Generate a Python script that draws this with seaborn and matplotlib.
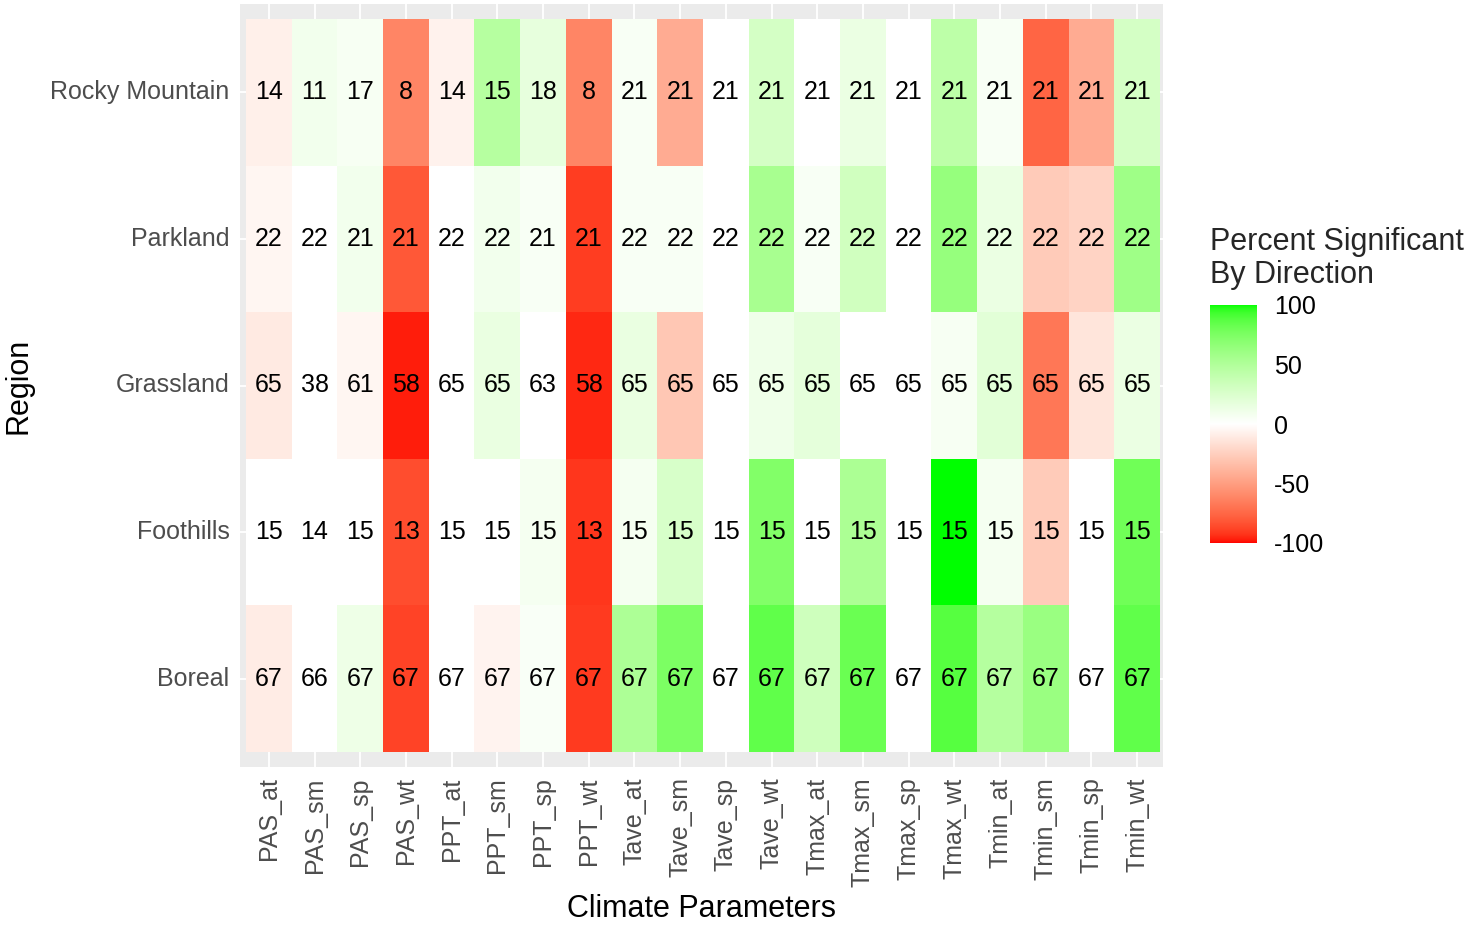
import numpy as np
import pandas as pd
import matplotlib
matplotlib.use("Agg")
import matplotlib.pyplot as plt
from matplotlib.colors import ListedColormap
import seaborn as sns

regions = ["Rocky Mountain", "Parkland", "Grassland", "Foothills", "Boreal"]
params = ["PAS_at", "PAS_sm", "PAS_sp", "PAS_wt", "PPT_at", "PPT_sm", "PPT_sp", "PPT_wt",
          "Tave_at", "Tave_sm", "Tave_sp", "Tave_wt", "Tmax_at", "Tmax_sm", "Tmax_sp", "Tmax_wt",
          "Tmin_at", "Tmin_sm", "Tmin_sp", "Tmin_wt"]

# number of sites per region/parameter (cell labels)
n_rocky = [14, 11, 17, 8, 14, 15, 18, 8, 21, 21, 21, 21, 21, 21, 21, 21, 21, 21, 21, 21]
n_parkland = [22, 22, 21, 21, 22, 22, 21, 21, 22, 22, 22, 22, 22, 22, 22, 22, 22, 22, 22, 22]
n_grassland = [65, 38, 61, 58, 65, 65, 63, 58, 65, 65, 65, 65, 65, 65, 65, 65, 65, 65, 65, 65]
n_foothills = [15, 14, 15, 13, 15, 15, 15, 13, 15, 15, 15, 15, 15, 15, 15, 15, 15, 15, 15, 15]
n_boreal = [67, 66, 67, 67, 67, 67, 67, 67, 67, 67, 67, 67, 67, 67, 67, 67, 67, 67, 67, 67]

# percent significant by direction (fill)
p_rocky = [-8, 9, 6, -62, -7, 47, 17, -62, 5, -43, 0, 29, 0, 14, 0, 43, 5, -76, -43, 29]
p_parkland = [-5, 0, 9, -81, 0, 9, 5, -90, 5, 5, 0, 55, 5, 32, 0, 64, 14, -27, -23, 59]
p_grassland = [-11, 0, -5, -97, 0, 15, 0, -95, 15, -29, 0, 11, 18, 0, 0, 6, 20, -68, -14, 14]
p_foothills = [0, 0, 0, -85, 0, 0, 7, -92, 7, 27, 0, 73, 0, 53, 0, 100, 7, -27, 0, 80]
p_boreal = [-10, 0, 12, -88, 0, -6, 4, -91, 52, 75, 0, 85, 33, 82, 0, 88, 48, 62, 0, 85]

counts = pd.DataFrame([n_rocky, n_parkland, n_grassland, n_foothills, n_boreal],
                      index=regions, columns=params)
pct = pd.DataFrame([p_rocky, p_parkland, p_grassland, p_foothills, p_boreal],
                   index=regions, columns=params)


# diverging red-white-green palette interpolated in CIELAB
def _srgb_to_lab(rgb):
    rgb = np.asarray(rgb, float)
    lin = np.where(rgb <= 0.04045, rgb / 12.92, ((rgb + 0.055) / 1.055) ** 2.4)
    M = np.array([[0.4124564, 0.3575761, 0.1804375],
                  [0.2126729, 0.7151522, 0.0721750],
                  [0.0193339, 0.1191920, 0.9503041]])
    xyz = lin @ M.T / np.array([0.95047, 1.0, 1.08883])
    f = np.where(xyz > 216 / 24389, np.cbrt(xyz), (24389 / 27 * xyz + 16) / 116)
    return np.stack([116 * f[..., 1] - 16, 500 * (f[..., 0] - f[..., 1]),
                     200 * (f[..., 1] - f[..., 2])], axis=-1)


def _lab_to_srgb(lab):
    lab = np.asarray(lab, float)
    fy = (lab[..., 0] + 16) / 116
    fx = fy + lab[..., 1] / 500
    fz = fy - lab[..., 2] / 200
    f = np.stack([fx, fy, fz], axis=-1)
    xyz = np.where(f ** 3 > 216 / 24389, f ** 3, (116 * f - 16) / (24389 / 27))
    xyz = xyz * np.array([0.95047, 1.0, 1.08883])
    Minv = np.array([[3.2404542, -1.5371385, -0.4985314],
                     [-0.9692660, 1.8760108, 0.0415560],
                     [0.0556434, -0.2040259, 1.0572252]])
    lin = np.clip(xyz @ Minv.T, 0, 1)
    return np.where(lin <= 0.0031308, 12.92 * lin, 1.055 * lin ** (1 / 2.4) - 0.055)


lab_low = _srgb_to_lab([1, 0, 0])
lab_mid = _srgb_to_lab([1, 1, 1])
lab_high = _srgb_to_lab([0, 1, 0])
t = np.linspace(-1, 1, 512)
lab = np.where(t[:, None] < 0,
               lab_mid + (-t[:, None]) * (lab_low - lab_mid),
               lab_mid + t[:, None] * (lab_high - lab_mid))
cmap = ListedColormap(np.clip(_lab_to_srgb(lab), 0, 1))

sns.set_style("white")
plt.rcParams["font.family"] = ["Liberation Sans", "DejaVu Sans"]
plt.rcParams["axes.unicode_minus"] = False

W, H = 1478, 926
fig = plt.figure(figsize=(W / 100, H / 100), dpi=100)
ax = fig.add_axes([240 / W, 1 - 767 / H, (1163 - 240) / W, (767 - 4) / H])
cax = fig.add_axes([1210 / W, 1 - 543 / H, 47 / W, 238 / H])

sns.heatmap(pct, ax=ax, cmap=cmap, vmin=-100, vmax=100,
            annot=counts, fmt="d", annot_kws={"size": 18, "color": "black"},
            cbar_ax=cax, linewidths=0)

ax.set_facecolor("#EBEBEB")
ax.set_xlim(-0.131, 20.066)
ax.set_ylim(5.102, -0.102)
ax.set_axisbelow(True)
ax.grid(True, color="white", linewidth=1.3)
for s in ax.spines.values():
    s.set_visible(False)

ax.tick_params(axis="both", length=4.5, width=1.1, color="#333333",
               labelcolor="#4D4D4D", labelsize=18, pad=3)
ax.set_xticklabels(params, rotation=90, va="top", ha="center")
ax.set_yticklabels(regions, rotation=0, va="center")
ax.set_xlabel("Climate Parameters", fontsize=22, color="black", labelpad=5)
ax.set_ylabel("Region", fontsize=22, color="black", labelpad=12)

cbar = ax.collections[0].colorbar
cbar.set_ticks([-100, -50, 0, 50, 100])
cbar.outline.set_visible(False)
cax.tick_params(left=True, right=True, direction="in", length=6, width=1,
                color="white", labelcolor="black", labelsize=18, pad=12)
fig.text(1210 / W, 1 - 227 / H, "Percent Significant\nBy Direction", fontsize=22,
         ha="left", va="top", linespacing=1.12)

fig.savefig("out.png", dpi=100)
